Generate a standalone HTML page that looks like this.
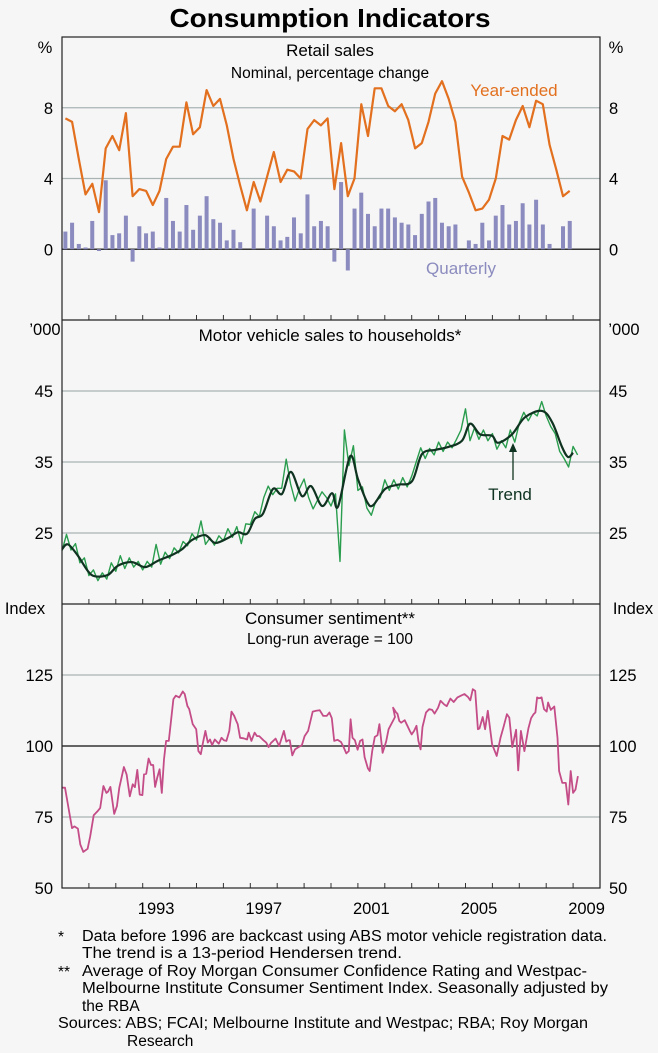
<!DOCTYPE html>
<html><head><meta charset="utf-8">
<style>
html,body{margin:0;padding:0;background:#f6f6f6;}
body{width:658px;height:1053px;overflow:hidden;font-family:"Liberation Sans",Arial,sans-serif;}
svg{display:block;}
text{font-family:"Liberation Sans",Arial,sans-serif;}
</style></head>
<body>
<svg id="chart" width="658" height="1053" viewBox="0 0 658 1053" xmlns="http://www.w3.org/2000/svg">
<rect x="0" y="0" width="658" height="1053" fill="#f6f6f6"/>
<text x="330" y="27" text-anchor="middle" font-size="26" font-weight="bold" fill="#000" textLength="321" lengthAdjust="spacingAndGlyphs">Consumption Indicators</text>
<g id="plots"></g>
<g font-size="15.5" fill="#000">
<text x="58" y="942">*</text>
<text x="82" y="941" textLength="525" lengthAdjust="spacingAndGlyphs">Data before 1996 are backcast using ABS motor vehicle registration data.</text>
<text x="82" y="958" textLength="320" lengthAdjust="spacingAndGlyphs">The trend is a 13-period Hendersen trend.</text>
<text x="58" y="977">**</text>
<text x="82" y="976" textLength="505" lengthAdjust="spacingAndGlyphs">Average of Roy Morgan Consumer Confidence Rating and Westpac-</text>
<text x="82" y="993" textLength="526" lengthAdjust="spacingAndGlyphs">Melbourne Institute Consumer Sentiment Index. Seasonally adjusted by</text>
<text x="82" y="1011">the RBA</text>
<text x="58" y="1028" textLength="530" lengthAdjust="spacingAndGlyphs">Sources:  ABS;  FCAI; Melbourne Institute and Westpac; RBA; Roy Morgan</text>
<text x="127" y="1046">Research</text>
</g>
</svg>
<script>
// ---------- data ----------
const xTickLabels = ["1993","1997","2001","2005","2009"];
const xTickYears = [1993,1997,2001,2005,2009];
const retailStart = 1990.125;
const retailYearEnded = [7.4,7.2,5.1,3.1,3.7,2.1,5.7,6.4,5.6,7.7,3.0,3.4,3.3,2.5,3.3,5.1,5.8,5.8,8.3,6.5,6.9,9.0,8.1,8.5,7.0,5.1,3.6,2.2,3.8,2.7,4.1,5.5,3.8,4.5,4.4,4.0,6.8,7.3,7.0,7.4,3.4,6.0,3.0,4.0,8.2,6.4,9.1,9.1,8.1,7.8,8.2,7.3,5.7,6.0,7.2,8.8,9.5,8.5,7.2,4.1,3.2,2.2,2.3,2.8,4.0,6.4,6.2,7.3,8.1,6.9,8.4,8.2,5.9,4.5,3.0,3.3];
const retailQuarterly = [1.0,1.5,0.3,0.1,1.6,-0.1,3.9,0.8,0.9,1.9,-0.7,1.3,0.9,1.0,0.1,2.9,1.6,1.0,2.5,1.1,1.9,3.0,1.7,1.5,0.5,1.1,0.4,0,2.3,0,1.9,1.3,0.5,0.7,1.8,0.9,3.1,1.3,1.6,1.3,-0.7,3.8,-1.2,2.3,3.2,2.0,1.3,2.3,2.3,1.8,1.5,1.4,0.8,2.0,2.7,2.9,1.5,1.3,1.4,0,0.5,0.3,1.5,0.5,1.9,2.5,1.4,1.6,2.6,1.4,2.8,1.4,0.3,0,1.3,1.6];
const pctTicks = [0,4,8];
const motorStart = 1990.0;
const motorRaw = [22.5,24.8,22.6,23.5,20.8,21.5,19.0,19.8,18.3,19.4,18.5,20.8,19.6,21.8,20.0,21.5,20.2,21.0,19.8,21.0,20.2,23.4,20.6,22.3,21.4,22.9,22.2,23.8,23.2,24.9,24.0,26.7,23.4,24.3,23.3,24.6,23.9,25.6,24.4,25.9,23.5,26.3,26.2,28.0,27.3,30.0,31.6,30.4,31.3,31.3,35.4,31.9,29.5,31.3,32.6,30.0,28.4,29.6,30.8,30.0,28.8,30.5,21.0,39.5,34.5,37.3,31.0,31.5,28.5,27.5,29.5,30.0,32.5,31.0,32.5,31.2,32.8,31.5,33.0,35.0,37.0,35.5,36.9,36.0,37.8,36.5,37.8,37.0,38.2,39.5,42.5,38.0,39.8,38.2,39.5,38.0,39.0,36.8,38.0,37.0,39.5,37.8,40.5,42.0,40.8,42.0,41.5,43.5,41.5,40.0,39.0,36.5,35.5,34.3,37.2,36.0];
const motorTrendDates = [1990.00,1990.22,1990.59,1990.97,1991.23,1991.71,1992.08,1992.60,1993.09,1993.57,1994.09,1994.46,1994.83,1995.32,1995.69,1996.17,1996.54,1996.88,1997.17,1997.47,1997.84,1998.18,1998.51,1998.92,1999.26,1999.67,2000.04,2000.26,2000.71,2001.00,2001.34,2001.56,2002.01,2002.49,2003.01,2003.38,2003.87,2004.35,2004.87,2005.17,2005.54,2005.99,2006.21,2006.73,2007.21,2007.84,2008.22,2008.59,2008.81,2009.00];
const motorTrend = [22.7,23.4,21.8,19.6,18.9,19.1,20.4,20.9,20.2,21.1,21.9,22.7,24.0,24.7,23.6,24.3,25.1,24.9,27.0,27.7,31.2,30.5,33.6,30.2,31.6,28.8,30.6,28.7,35.8,32.6,29.4,28.9,31.2,31.8,32.3,36.1,36.7,37.1,38.0,40.4,38.9,38.7,37.7,38.9,41.3,42.2,40.6,37.1,35.7,36.3];
const motorTicks = [25,35,45];
const sentDates = [1990.00,1990.11,1990.24,1990.37,1990.46,1990.59,1990.68,1990.79,1990.95,1991.05,1991.18,1991.32,1991.42,1991.54,1991.65,1991.71,1991.80,1991.94,1992.04,1992.13,1992.30,1992.40,1992.52,1992.63,1992.71,1992.80,1992.89,1992.99,1993.05,1993.13,1993.22,1993.31,1993.39,1993.46,1993.54,1993.63,1993.71,1993.79,1993.87,1993.97,1994.14,1994.23,1994.36,1994.49,1994.56,1994.66,1994.73,1994.86,1994.99,1995.07,1995.16,1995.24,1995.33,1995.42,1995.50,1995.58,1995.68,1995.83,1995.93,1996.02,1996.11,1996.22,1996.30,1996.40,1996.48,1996.53,1996.62,1996.75,1996.88,1996.94,1997.04,1997.16,1997.25,1997.33,1997.49,1997.59,1997.68,1997.77,1997.85,1997.94,1998.07,1998.15,1998.25,1998.34,1998.41,1998.47,1998.56,1998.66,1998.79,1998.92,1999.02,1999.15,1999.32,1999.45,1999.58,1999.71,1999.84,1999.94,2000.03,2000.12,2000.24,2000.37,2000.47,2000.57,2000.66,2000.73,2000.80,2000.89,2000.99,2001.08,2001.17,2001.25,2001.37,2001.44,2001.53,2001.63,2001.73,2001.80,2001.92,2002.05,2002.14,2002.38,2002.31,2002.42,2002.47,2002.54,2002.61,2002.74,2002.84,2002.93,2003.00,2003.09,2003.18,2003.25,2003.33,2003.40,2003.53,2003.65,2003.76,2003.85,2003.98,2004.07,2004.20,2004.30,2004.44,2004.56,2004.70,2004.83,2004.96,2005.09,2005.18,2005.27,2005.36,2005.46,2005.52,2005.64,2005.73,2005.83,2005.99,2006.16,2006.30,2006.41,2006.54,2006.63,2006.74,2006.88,2006.96,2007.06,2007.19,2007.34,2007.44,2007.53,2007.60,2007.66,2007.73,2007.83,2007.92,2008.02,2008.07,2008.17,2008.30,2008.42,2008.48,2008.60,2008.73,2008.82,2008.91,2009.00,2009.09,2009.18];
const sentValues = [85.3,85.3,78.2,71.1,71.7,70.9,65.3,62.7,63.8,68.2,75.6,77.0,78.2,85.9,83.5,83.9,85.6,76.1,78.8,85.3,92.6,90.0,82.3,86.5,85.5,91.6,82.9,82.7,90.0,90.2,95.6,93.3,93.3,85.6,88.8,91.8,83.5,95.3,101.8,101.8,116.5,117.7,117.1,119.2,118.3,114.1,113.0,107.7,105.9,98.2,97.1,101.2,105.3,101.2,102.3,100.3,102.3,100.8,102.9,102.0,101.8,105.3,112.1,110.6,108.8,107.7,102.9,102.7,102.3,104.7,101.8,104.7,103.5,103.5,102.0,101.2,99.6,101.1,101.8,102.6,100.0,102.3,105.3,101.5,102.0,102.0,96.7,98.8,99.6,100.3,103.5,105.3,112.1,112.4,112.6,110.6,110.6,111.8,109.8,101.8,102.2,101.4,99.6,97.4,98.2,109.4,102.9,102.0,98.7,101.8,102.3,96.1,92.1,91.2,98.2,103.2,103.8,107.7,97.6,101.5,105.9,110.2,113.5,111.8,111.4,108.8,108.2,109.1,107.1,105.3,104.1,105.3,107.1,101.8,98.8,106.7,111.8,113.0,112.7,111.4,113.5,115.9,114.7,114.0,116.7,115.5,117.1,117.7,118.3,117.3,116.1,120.0,119.4,105.9,106.2,110.2,105.9,112.4,100.6,96.5,102.9,106.5,111.2,110.0,99.6,105.7,91.4,105.3,98.2,106.2,109.8,111.2,111.8,117.1,116.8,117.1,113.0,112.1,115.3,112.7,113.9,102.9,91.2,87.0,87.0,79.4,91.2,83.5,84.7,89.4,88.6];
const sentTicks = [50,75,100,125];

// ---------- geometry ----------
const NS = "http://www.w3.org/2000/svg";
const L = 62, R = 600;
const X0 = 1990, X1 = 2010;
const panels = {
  retail: {top:37, bottom:320, min:-4, max:12},
  motor: {top:320, bottom:604, min:15, max:55},
  sent: {top:604, bottom:888, min:50, max:150}
};
function xs(d){ return L + (d - X0) / (X1 - X0) * (R - L); }
function ys(p, v){ return p.bottom - (v - p.min) / (p.max - p.min) * (p.bottom - p.top); }
const root = document.getElementById('plots');
function el(tag, attrs, parent){
  const e = document.createElementNS(NS, tag);
  for (const k in attrs) e.setAttribute(k, attrs[k]);
  (parent || root).appendChild(e);
  return e;
}
function txt(x, y, s, attrs){
  const t = el('text', Object.assign({x:x, y:y}, attrs || {}));
  t.textContent = s;
  return t;
}
function smoothPath(pts){
  let d = "M" + pts[0][0].toFixed(1) + "," + pts[0][1].toFixed(1);
  for (let i = 0; i < pts.length - 1; i++){
    const p0 = pts[Math.max(0,i-1)], p1 = pts[i], p2 = pts[i+1], p3 = pts[Math.min(pts.length-1,i+2)];
    const c1x = p1[0] + (p2[0]-p0[0])/6, c1y = p1[1] + (p2[1]-p0[1])/6;
    const c2x = p2[0] - (p3[0]-p1[0])/6, c2y = p2[1] - (p3[1]-p1[1])/6;
    d += " C" + c1x.toFixed(1)+","+c1y.toFixed(1)+" "+c2x.toFixed(1)+","+c2y.toFixed(1)+" "+p2[0].toFixed(1)+","+p2[1].toFixed(1);
  }
  return d;
}
function gridAndTicks(p, ticks, darkVal, name){
  ticks.forEach(function(v){
    const y = ys(p, v);
    if (y > p.top + 1 && y < p.bottom - 1){
      const g = el('line', {x1:L, x2:R, y1:y, y2:y, stroke: v === darkVal ? '#333' : '#a9b3b3', 'stroke-width': v === darkVal ? 1.4 : 1.2});
      
      
    }
    const a = txt(L - 9, y + 6, String(v), {'text-anchor':'end', 'font-size':16.5, fill:'#000'});
    
    
    const b = txt(R + 9, y + 6, String(v), {'text-anchor':'start', 'font-size':16.5, fill:'#000'});
    
    
  });
  for (let yr = X0 + 1; yr < X1; yr++){
    const x = xs(yr);
    const t = el('line', {x1:x, x2:x, y1:p.bottom, y2:p.bottom - 5, stroke:'#333', 'stroke-width':1});
    
    
  }
}

// ---------- panel 1: retail ----------
const pr = panels.retail;
gridAndTicks(pr, pctTicks, 0, 'retail');
retailQuarterly.forEach(function(v, i){
  const x = xs(retailStart + i * 0.25);
  const y0 = ys(pr, 0), y1 = ys(pr, v);
  const b = el('rect', {x:x - 2, y:Math.min(y0,y1), width:4, height:Math.abs(y1-y0), fill:'#8b8bbf'});
  
  
});
(function(){
  const pts = retailYearEnded.map(function(v,i){ return [xs(retailStart + i*0.25), ys(pr, v)]; });
  const l = el('polyline', {points: pts.map(function(p){return p[0].toFixed(1)+","+p[1].toFixed(1);}).join(" "), fill:'none', stroke:'#e2701f', 'stroke-width':2.2, 'stroke-linejoin':'round'});
  
  
})();
let t;
t = txt(330, 56, 'Retail sales', {'text-anchor':'middle','font-size':17});
 
t = txt(330, 78, 'Nominal, percentage change', {'text-anchor':'middle','font-size':15.5});
 
t = txt(514, 96, 'Year-ended', {'text-anchor':'middle','font-size':17, fill:'#e2701f'});
 
t = txt(461, 274, 'Quarterly', {'text-anchor':'middle','font-size':17, fill:'#8b8bbf'});
 
t = txt(45, 53, '%', {'text-anchor':'middle','font-size':16.5});
 
t = txt(616, 53, '%', {'text-anchor':'middle','font-size':16.5});
 

// ---------- panel 2: motor vehicles ----------
const pm = panels.motor;
gridAndTicks(pm, motorTicks, null, 'motor');
(function(){
  const pts = motorRaw.map(function(v,i){ return [xs(motorStart + i/6), ys(pm, v)]; });
  const l = el('polyline', {points: pts.map(function(p){return p[0].toFixed(1)+","+p[1].toFixed(1);}).join(" "), fill:'none', stroke:'#2a9d4e', 'stroke-width':1.4, 'stroke-linejoin':'round'});
  
  
  const tp = motorTrend.map(function(v,i){ return [xs(motorTrendDates[i]), ys(pm, v)]; });
  const tl = el('path', {d: smoothPath(tp), fill:'none', stroke:'#0f3320', 'stroke-width':2.2});
  
  
})();
t = txt(330, 341, 'Motor vehicle sales to households*', {'text-anchor':'middle','font-size':17});
 
t = txt(510, 500, 'Trend', {'text-anchor':'middle','font-size':17, fill:'#0f3320'});
 
t = el('line', {x1:513, x2:513, y1:480, y2:450, stroke:'#0f3320', 'stroke-width':1.3});
 
t = el('polygon', {points:'513,443 509,452 517,452', fill:'#0f3320'});
 
t = txt(45, 335, '\u2019000', {'text-anchor':'middle','font-size':16.5});
 
t = txt(624, 335, '\u2019000', {'text-anchor':'middle','font-size':16.5});
 

// ---------- panel 3: sentiment ----------
const ps = panels.sent;
gridAndTicks(ps, sentTicks, 100, 'sentiment');
(function(){
  const pts = sentValues.map(function(v,i){ return [xs(sentDates[i]), ys(ps, v)]; });
  const l = el('polyline', {points: pts.map(function(p){return p[0].toFixed(1)+","+p[1].toFixed(1);}).join(" "), fill:'none', stroke:'#c44d88', 'stroke-width':1.8, 'stroke-linejoin':'round'});
  
  
})();
t = txt(330, 624, 'Consumer sentiment**', {'text-anchor':'middle','font-size':17});
 
t = txt(330, 644, 'Long-run average = 100', {'text-anchor':'middle','font-size':15.5});
 
t = txt(25, 614, 'Index', {'text-anchor':'middle','font-size':16.5});
 
t = txt(633, 614, 'Index', {'text-anchor':'middle','font-size':16.5});
 

// ---------- frame & x labels ----------
t = el('rect', {x:L, y:37, width:R-L, height:888-37, fill:'none', stroke:'#222', 'stroke-width':1.2});
 
t = el('line', {x1:L, x2:R, y1:320, y2:320, stroke:'#222', 'stroke-width':1.2});
 
t = el('line', {x1:L, x2:R, y1:604, y2:604, stroke:'#222', 'stroke-width':1.2});
 
xTickLabels.forEach(function(s, i){
  const lab = txt(xs(xTickYears[i] + 0.5), 914, s, {'text-anchor':'middle','font-size':16.5});
  
  
});
</script>
</body></html>
